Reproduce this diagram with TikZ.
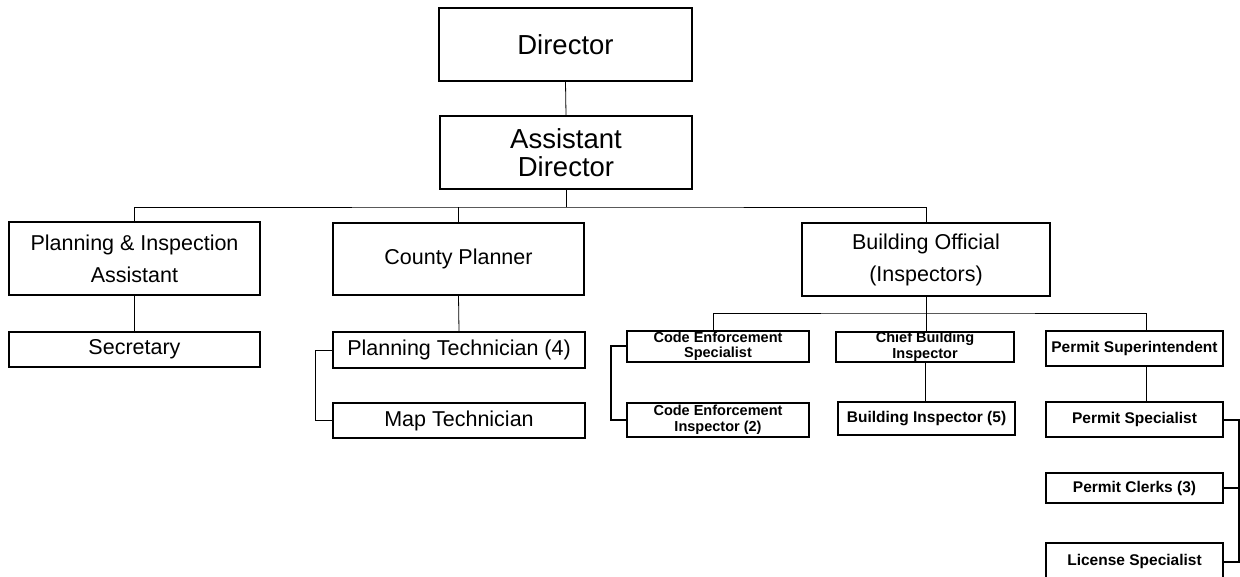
\documentclass[tikz,border=0pt]{standalone}
\usepackage{fontspec}
\setmainfont{Liberation Sans}
\usetikzlibrary{calc}
\begin{document}
\begin{tikzpicture}[x=1pt,y=-1pt,
  orgbox/.style={draw, line width=1.2pt, inner sep=0pt, align=center, text=black},
  bigf/.style={font=\fontsize{27.5}{28}\selectfont},
  midf/.style={font=\fontsize{21.5}{32}\selectfont},
  smallf/.style={font=\fontsize{15.5}{15.5}\selectfont\bfseries},
  twof/.style={font=\fontsize{14.5}{15.5}\selectfont\bfseries},
  conn/.style={line width=0.8pt},
  brk/.style={line width=2pt}]
\useasboundingbox (0,0) rectangle (1240,577);
\node[orgbox,bigf,minimum width=253pt,minimum height=73pt] (dir) at (565.5,44.5) {Director};
\node[orgbox,bigf,minimum width=252pt,minimum height=73pt] (ad) at (566,152.5) {Assistant\\Director};
\node[orgbox,midf,minimum width=251pt,minimum height=73pt] (pia) at (134.5,258.5) {Planning \& Inspection\\Assistant};
\node[orgbox,midf,minimum width=251pt,minimum height=72pt] (cp) at (458.5,259) {County Planner};
\node[orgbox,midf,minimum width=248pt,minimum height=73pt] (bo) at (926,259.5) {Building Official\\(Inspectors)};
\node[orgbox,midf,minimum width=251pt,minimum height=35pt] (sec) at (134.5,349.5) {Secretary};
\node[orgbox,midf,minimum width=252pt,minimum height=36pt] (pt) at (459,350) {Planning Technician (4)};
\node[orgbox,midf,minimum width=252pt,minimum height=35pt] (mt) at (459,420.5) {Map Technician};
\node[orgbox,twof,minimum width=182pt,minimum height=31pt] (ces) at (718,346.5) {Code Enforcement\\Specialist};
\node[orgbox,twof,minimum width=178pt,minimum height=30pt] (cbi) at (925,347) {Chief Building\\Inspector};
\node[orgbox,smallf,minimum width=177pt,minimum height=35pt] (ps) at (1134.5,348.5) {Permit Superintendent};
\node[orgbox,twof,minimum width=182pt,minimum height=34pt] (cei) at (718,420) {Code Enforcement\\Inspector (2)};
\node[orgbox,smallf,minimum width=177pt,minimum height=33pt] (bi) at (926.5,418.5) {Building Inspector (5)};
\node[orgbox,smallf,minimum width=177pt,minimum height=35pt] (psp) at (1134.5,419.5) {Permit Specialist};
\node[orgbox,smallf,minimum width=177pt,minimum height=30pt] (pc) at (1134.5,488) {Permit Clerks (3)};
\node[orgbox,smallf,minimum width=177pt,minimum height=37pt] (ls) at (1134.5,561.5) {License Specialist};
\coordinate (bus) at (565,207);
\coordinate (sbus) at (926,313);
\draw[conn] (dir.south) -- (ad.north);
\draw[conn] (ad.south) -- (ad.south |- bus);
\draw[conn] (pia.north) |- (bus) -| (bo.north);
\draw[conn] (cp.north) -- (cp.north |- bus);
\draw[conn] (pia.south) -- (sec.north);
\draw[conn] (cp.south) -- (pt.north);
\draw[conn] (pt.west) -- ++(-17,0) |- (mt.west);
\draw[conn] (bo.south) -- (bo.south |- cbi.north);
\draw[conn] ($(ces.north)+(-5,0)$) |- (sbus) -| ($(ps.north)+(12,0)$);
\draw[conn] (cbi.south) -- (cbi.south |- bi.north);
\draw[conn] ($(ps.south)+(12,0)$) -- ($(psp.north)+(12,0)$);
\draw[brk] (ces.west) -- ++(-15,0) |- (cei.west);
\draw[brk] (psp.east) -- ++(15,0) |- (ls.east);
\draw[brk] (pc.east) -- ++(15,0);
\end{tikzpicture}
\end{document}
